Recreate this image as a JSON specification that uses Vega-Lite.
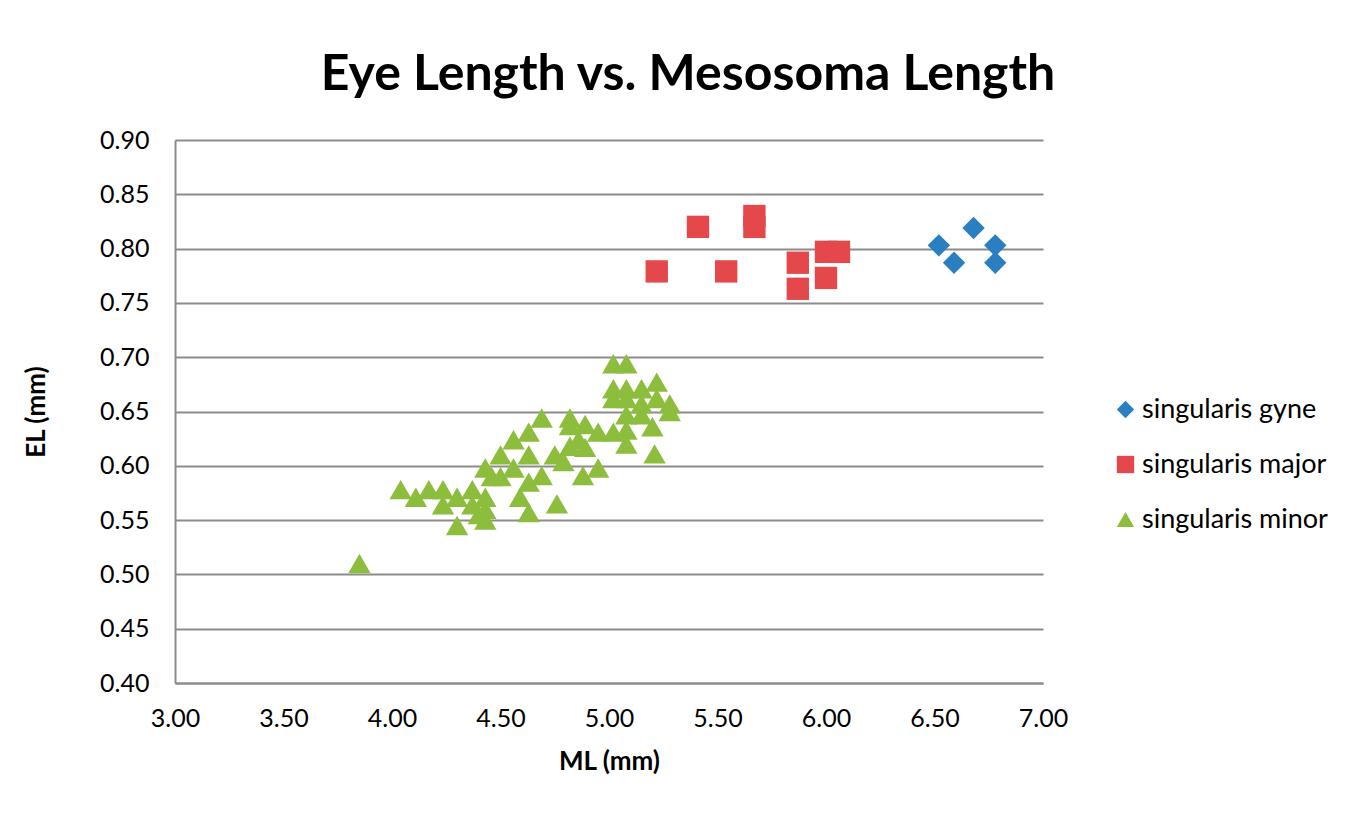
{
  "$schema": "https://vega.github.io/schema/vega-lite/v6.json",
  "autosize": {"type": "none"},
  "width": 868,
  "height": 543,
  "padding": {"left": 175, "top": 140, "right": 304, "bottom": 130},
  "background": "white",
  "title": {
    "text": "Eye Length vs. Mesosoma Length",
    "font": "Lato",
    "fontSize": 50,
    "fontWeight": "bold",
    "color": "#000000",
    "anchor": "middle",
    "dx": 79,
    "offset": 28
  },
  "data": {
    "values": [
      {"ML": 6.68, "EL": 0.819, "group": "singularis gyne"},
      {"ML": 6.52, "EL": 0.803, "group": "singularis gyne"},
      {"ML": 6.78, "EL": 0.803, "group": "singularis gyne"},
      {"ML": 6.59, "EL": 0.787, "group": "singularis gyne"},
      {"ML": 6.78, "EL": 0.787, "group": "singularis gyne"},
      {"ML": 5.41, "EL": 0.82, "group": "singularis major"},
      {"ML": 5.67, "EL": 0.83, "group": "singularis major"},
      {"ML": 5.67, "EL": 0.82, "group": "singularis major"},
      {"ML": 5.22, "EL": 0.779, "group": "singularis major"},
      {"ML": 5.54, "EL": 0.779, "group": "singularis major"},
      {"ML": 5.87, "EL": 0.787, "group": "singularis major"},
      {"ML": 5.87, "EL": 0.763, "group": "singularis major"},
      {"ML": 6.0, "EL": 0.797, "group": "singularis major"},
      {"ML": 6.06, "EL": 0.797, "group": "singularis major"},
      {"ML": 6.0, "EL": 0.773, "group": "singularis major"},
      {"ML": 3.85, "EL": 0.51, "group": "singularis minor"},
      {"ML": 4.04, "EL": 0.578, "group": "singularis minor"},
      {"ML": 4.11, "EL": 0.571, "group": "singularis minor"},
      {"ML": 4.17, "EL": 0.578, "group": "singularis minor"},
      {"ML": 4.235, "EL": 0.578, "group": "singularis minor"},
      {"ML": 4.235, "EL": 0.564, "group": "singularis minor"},
      {"ML": 4.3, "EL": 0.571, "group": "singularis minor"},
      {"ML": 4.3, "EL": 0.545, "group": "singularis minor"},
      {"ML": 4.37, "EL": 0.578, "group": "singularis minor"},
      {"ML": 4.37, "EL": 0.564, "group": "singularis minor"},
      {"ML": 4.43, "EL": 0.571, "group": "singularis minor"},
      {"ML": 4.43, "EL": 0.56, "group": "singularis minor"},
      {"ML": 4.43, "EL": 0.55, "group": "singularis minor"},
      {"ML": 4.4, "EL": 0.555, "group": "singularis minor"},
      {"ML": 4.43, "EL": 0.598, "group": "singularis minor"},
      {"ML": 4.46, "EL": 0.59, "group": "singularis minor"},
      {"ML": 4.5, "EL": 0.61, "group": "singularis minor"},
      {"ML": 4.5, "EL": 0.59, "group": "singularis minor"},
      {"ML": 4.56, "EL": 0.624, "group": "singularis minor"},
      {"ML": 4.56, "EL": 0.598, "group": "singularis minor"},
      {"ML": 4.59, "EL": 0.571, "group": "singularis minor"},
      {"ML": 4.63, "EL": 0.631, "group": "singularis minor"},
      {"ML": 4.63, "EL": 0.61, "group": "singularis minor"},
      {"ML": 4.63, "EL": 0.585, "group": "singularis minor"},
      {"ML": 4.63, "EL": 0.557, "group": "singularis minor"},
      {"ML": 4.69, "EL": 0.644, "group": "singularis minor"},
      {"ML": 4.69, "EL": 0.591, "group": "singularis minor"},
      {"ML": 4.75, "EL": 0.61, "group": "singularis minor"},
      {"ML": 4.76, "EL": 0.565, "group": "singularis minor"},
      {"ML": 4.79, "EL": 0.604, "group": "singularis minor"},
      {"ML": 4.82, "EL": 0.644, "group": "singularis minor"},
      {"ML": 4.82, "EL": 0.637, "group": "singularis minor"},
      {"ML": 4.82, "EL": 0.618, "group": "singularis minor"},
      {"ML": 4.86, "EL": 0.624, "group": "singularis minor"},
      {"ML": 4.89, "EL": 0.638, "group": "singularis minor"},
      {"ML": 4.89, "EL": 0.617, "group": "singularis minor"},
      {"ML": 4.88, "EL": 0.591, "group": "singularis minor"},
      {"ML": 4.95, "EL": 0.631, "group": "singularis minor"},
      {"ML": 4.95, "EL": 0.598, "group": "singularis minor"},
      {"ML": 5.02, "EL": 0.631, "group": "singularis minor"},
      {"ML": 5.02, "EL": 0.694, "group": "singularis minor"},
      {"ML": 5.08, "EL": 0.694, "group": "singularis minor"},
      {"ML": 5.02, "EL": 0.671, "group": "singularis minor"},
      {"ML": 5.02, "EL": 0.662, "group": "singularis minor"},
      {"ML": 5.08, "EL": 0.671, "group": "singularis minor"},
      {"ML": 5.08, "EL": 0.662, "group": "singularis minor"},
      {"ML": 5.08, "EL": 0.647, "group": "singularis minor"},
      {"ML": 5.08, "EL": 0.633, "group": "singularis minor"},
      {"ML": 5.08, "EL": 0.62, "group": "singularis minor"},
      {"ML": 5.15, "EL": 0.671, "group": "singularis minor"},
      {"ML": 5.15, "EL": 0.657, "group": "singularis minor"},
      {"ML": 5.15, "EL": 0.647, "group": "singularis minor"},
      {"ML": 5.22, "EL": 0.677, "group": "singularis minor"},
      {"ML": 5.22, "EL": 0.662, "group": "singularis minor"},
      {"ML": 5.28, "EL": 0.657, "group": "singularis minor"},
      {"ML": 5.28, "EL": 0.65, "group": "singularis minor"},
      {"ML": 5.2, "EL": 0.636, "group": "singularis minor"},
      {"ML": 5.21, "EL": 0.611, "group": "singularis minor"}
    ]
  },
  "mark": {"type": "point", "filled": true, "opacity": 1, "size": 500},
  "encoding": {
    "x": {
      "field": "ML",
      "type": "quantitative",
      "scale": {"domain": [3, 7], "nice": false, "zero": false},
      "axis": {
        "title": "ML (mm)",
        "values": [3, 3.5, 4, 4.5, 5, 5.5, 6, 6.5, 7],
        "format": ".2f",
        "grid": false,
        "ticks": false,
        "labelFlush": false,
        "labelOverlap": false,
        "domainColor": "#8c8c8c",
        "domainWidth": 2,
        "labelFont": "Lato",
        "labelFontSize": 25,
        "labelColor": "#000000",
        "labelPadding": 23,
        "titleFont": "Lato",
        "titleFontSize": 26,
        "titleFontWeight": "bold",
        "titleColor": "#000000",
        "titlePadding": 17
      }
    },
    "y": {
      "field": "EL",
      "type": "quantitative",
      "scale": {"domain": [0.4, 0.9], "nice": false, "zero": false},
      "axis": {
        "title": "EL (mm)",
        "values": [0.4, 0.45, 0.5, 0.55, 0.6, 0.65, 0.7, 0.75, 0.8, 0.85, 0.9],
        "format": ".2f",
        "grid": true,
        "gridColor": "#8c8c8c",
        "gridWidth": 2,
        "ticks": false,
        "labelFlush": false,
        "labelOverlap": false,
        "domainColor": "#8c8c8c",
        "domainWidth": 2,
        "labelFont": "Lato",
        "labelFontSize": 25,
        "labelColor": "#000000",
        "labelPadding": 26,
        "titleFont": "Lato",
        "titleFontSize": 26,
        "titleFontWeight": "bold",
        "titleColor": "#000000",
        "titlePadding": 50
      }
    },
    "color": {
      "field": "group",
      "type": "nominal",
      "scale": {
        "domain": ["singularis gyne", "singularis major", "singularis minor"],
        "range": ["#2a7fc0", "#e5484a", "#8cbd3c"]
      },
      "legend": {
        "title": null,
        "orient": "none",
        "legendX": 937,
        "legendY": 256,
        "labelFont": "Lato",
        "labelFontSize": 27,
        "labelLimit": 400,
        "labelColor": "#000000",
        "symbolSize": 300,
        "rowPadding": 27,
        "labelOffset": 3
      }
    },
    "shape": {
      "field": "group",
      "type": "nominal",
      "scale": {
        "domain": ["singularis gyne", "singularis major", "singularis minor"],
        "range": ["diamond", "square", "triangle-up"]
      }
    }
  },
  "config": {
    "view": {"stroke": null}
  }
}
